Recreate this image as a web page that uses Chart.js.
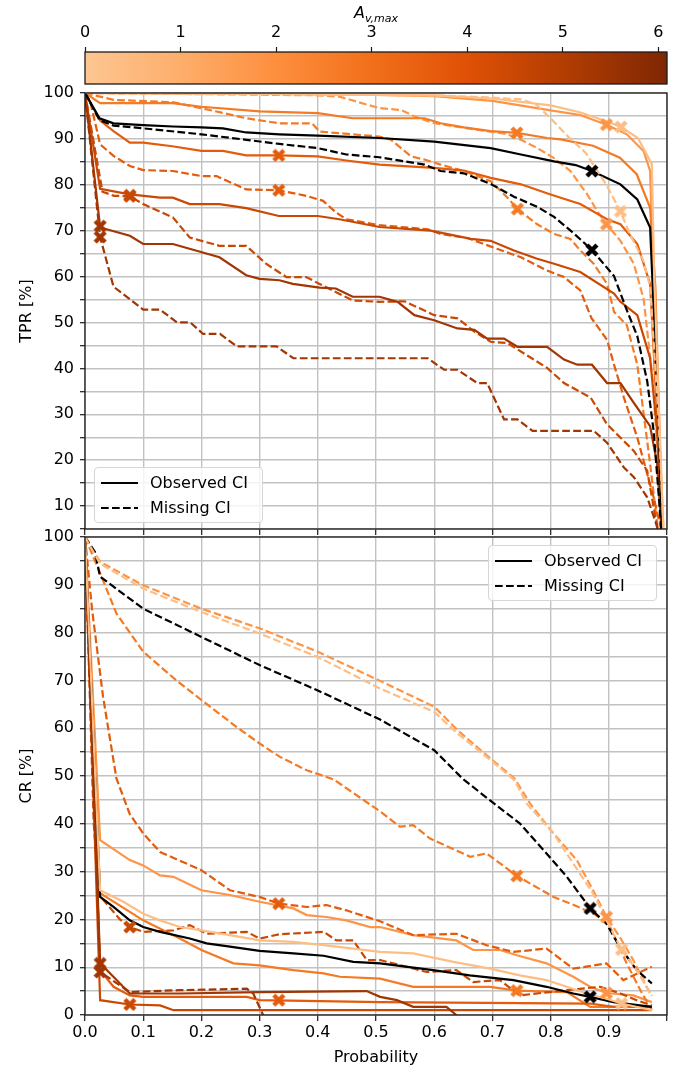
<!DOCTYPE html>
<html>
<head>
<meta charset="utf-8">
<script src="https://cdn.jsdelivr.net/npm/chart.js@4.4.1/dist/chart.umd.min.js"></script>
<style>
  body { margin: 0; background: #fff; }
  #wrap { position: relative; width: 683px; height: 1075px; font-family: 'DejaVu Sans', sans-serif; color: #000; }
  #wrap canvas { position: absolute; left: 0; }
  .cbtitle { position: absolute; left: 85px; width: 582px; top: 3px; text-align: center; font-style: italic; font-size: 16px; }
  .cbtitle sub { font-size: 11px; vertical-align: -4px; }
  .legend { position: absolute; width: 169px; height: 56px; background: rgba(255,255,255,0.8); border: 1px solid #d6d6d6; border-radius: 4px; box-sizing: border-box; font-size: 16px; }
  .legend .row { position: absolute; left: 0; width: 100%; height: 20px; }
  .legend svg { position: absolute; left: 6px; top: 8px; }
  .legend span { position: absolute; left: 55px; top: 0; line-height: 20px; white-space: nowrap; }
</style>
</head>
<body>
<div id="wrap">
  <canvas id="cbar" width="683" height="90" style="top:0px"></canvas>
  <canvas id="tpr" width="683" height="457" style="top:80px"></canvas>
  <canvas id="cr" width="683" height="555" style="top:520px"></canvas>
  <div class="cbtitle">A<sub>v,max</sub></div>
  <div class="legend" style="left:94px; top:467px">
    <div class="row" style="top:5px"><svg width="37" height="4"><line x1="0" y1="2" x2="37" y2="2" stroke="#000" stroke-width="2.2"/></svg><span>Observed CI</span></div>
    <div class="row" style="top:30px"><svg width="37" height="4"><line x1="0" y1="2" x2="37" y2="2" stroke="#000" stroke-width="2.2" stroke-dasharray="7.7 3.3"/></svg><span>Missing CI</span></div>
  </div>
  <div class="legend" style="left:488px; top:545px">
    <div class="row" style="top:5px"><svg width="37" height="4"><line x1="0" y1="2" x2="37" y2="2" stroke="#000" stroke-width="2.2"/></svg><span>Observed CI</span></div>
    <div class="row" style="top:30px"><svg width="37" height="4"><line x1="0" y1="2" x2="37" y2="2" stroke="#000" stroke-width="2.2" stroke-dasharray="7.7 3.3"/></svg><span>Missing CI</span></div>
  </div>
</div>
<script>
// colour per A_v,max group (light -> dark), last one is the black "all" curve
const lineColors = ['#fdbe85', '#fd9446', '#f47a24', '#e35b0b', '#c94803', '#a23603', '#000000'];

// colorbar
const cbarStops = [0, 1, 2, 3, 4, 5, 6.09];
const cbarColors = ['#fdc692', '#fdae6b', '#fd8f3e', '#f26f1a', '#df5106', '#b33d02', '#7f2704'];

// TPR panel, [probability, TPR %]
const tprObserved = [
  [[0,100],[0.3,99.8],[0.6,99.5],[0.7,98.8],[0.8,97.3],[0.85,95.8],[0.897,93.8],[0.921,92.6],[0.95,90.2],[0.974,84.5],[0.978,60],[0.995,0]],
  [[0,100],[0.3,99.8],[0.5,99.6],[0.6,99.3],[0.7,98.3],[0.8,96.2],[0.851,95.2],[0.896,93.1],[0.931,91],[0.96,87.3],[0.971,83],[0.978,55],[0.995,0]],
  [[0,100],[0.026,97.8],[0.15,97.8],[0.2,97.0],[0.3,96.0],[0.4,95.6],[0.46,94.5],[0.583,94.5],[0.611,93.4],[0.651,92.5],[0.697,91.7],[0.742,91.3],[0.794,90.2],[0.817,89.9],[0.873,88.5],[0.919,85.9],[0.948,82.3],[0.971,75],[0.98,57.7],[0.993,0]],
  [[0,100],[0.026,94],[0.049,91.7],[0.077,89.2],[0.1,89.2],[0.15,88.4],[0.2,87.4],[0.237,87.4],[0.277,86.4],[0.333,86.4],[0.4,86.2],[0.449,85.3],[0.506,84.4],[0.6,83.7],[0.651,83.1],[0.697,81.5],[0.749,80.1],[0.8,77.9],[0.851,75.8],[0.897,72.5],[0.92,71.4],[0.949,67.1],[0.971,58.4],[0.985,25],[0.993,0]],
  [[0,100],[0.026,79.1],[0.077,77.9],[0.129,77.2],[0.151,77.2],[0.18,75.8],[0.231,75.8],[0.277,74.9],[0.333,73.2],[0.4,73.2],[0.437,72.5],[0.506,70.8],[0.594,70.0],[0.663,68.2],[0.697,67.8],[0.737,65.7],[0.777,63.9],[0.806,62.8],[0.851,61.0],[0.909,56.3],[0.92,54.5],[0.949,51.6],[0.971,42.2],[0.983,26.4],[0.993,0]],
  [[0,100],[0.026,70.7],[0.077,68.9],[0.1,67.1],[0.151,67.1],[0.231,64.2],[0.277,60.3],[0.3,59.5],[0.334,59.2],[0.357,58.4],[0.403,57.6],[0.431,57.4],[0.46,55.6],[0.506,55.6],[0.537,54.5],[0.566,51.6],[0.6,50.5],[0.64,48.7],[0.669,48.4],[0.691,46.5],[0.72,46.5],[0.743,44.7],[0.794,44.7],[0.823,41.9],[0.846,40.8],[0.871,40.8],[0.897,36.8],[0.92,36.8],[0.943,32.5],[0.971,27.4],[0.983,19.2],[0.993,0]],
  [[0,100],[0.025,94.5],[0.049,93.4],[0.1,93.0],[0.151,92.7],[0.2,92.5],[0.237,92.3],[0.277,91.4],[0.334,91.0],[0.4,90.7],[0.506,90.2],[0.6,89.4],[0.697,88.0],[0.749,86.6],[0.806,85.1],[0.843,84.3],[0.871,83.0],[0.92,80.1],[0.949,76.8],[0.971,70.7],[0.985,30],[0.993,0]]
];
const tprMissing = [
  [[0,100],[0.3,99.8],[0.6,99.5],[0.7,99.0],[0.75,98.6],[0.775,97.5],[0.8,94.5],[0.83,90.5],[0.86,87],[0.896,80],[0.92,74.2],[0.936,69.3],[0.959,63.6],[0.971,57.8],[0.985,30],[0.996,0]],
  [[0,100],[0.4,99.5],[0.437,99.2],[0.506,96.7],[0.543,96.3],[0.566,94.9],[0.6,93.4],[0.657,92.3],[0.697,91.6],[0.726,91.0],[0.749,89.8],[0.777,88.0],[0.806,85.8],[0.834,83.0],[0.863,77.9],[0.88,74.3],[0.896,71.4],[0.92,67.8],[0.943,62.8],[0.96,55],[0.975,38],[0.99,10],[0.995,0]],
  [[0,100],[0.049,98.5],[0.15,98.0],[0.2,96.7],[0.277,94.5],[0.334,93.4],[0.39,93.4],[0.403,91.6],[0.506,90.5],[0.526,89.8],[0.56,86.2],[0.583,85.5],[0.611,84.4],[0.651,83.0],[0.697,80.8],[0.726,77.2],[0.743,74.7],[0.777,71.4],[0.806,69.3],[0.834,68.2],[0.851,65.7],[0.874,62.8],[0.897,58.4],[0.909,52.3],[0.931,49.4],[0.949,40.8],[0.96,30],[0.971,19.2],[0.985,4],[0.99,0]],
  [[0,100],[0.009,98.2],[0.026,88.8],[0.049,86.3],[0.077,84.1],[0.1,83.2],[0.151,83.0],[0.2,81.9],[0.226,81.9],[0.277,79.0],[0.333,78.8],[0.38,77.6],[0.409,76.5],[0.431,74.0],[0.449,72.5],[0.506,71.2],[0.589,70.3],[0.611,69.3],[0.657,68.4],[0.709,66.0],[0.749,64.2],[0.794,61.3],[0.823,59.9],[0.851,57.0],[0.87,51],[0.897,46.2],[0.909,40.8],[0.926,33.6],[0.949,24.9],[0.966,17.0],[0.977,11.9],[0.989,5.5],[0.992,0]],
  [[0,100],[0.03,78.5],[0.05,77.6],[0.077,77.5],[0.1,75.8],[0.151,72.9],[0.18,68.5],[0.231,66.7],[0.277,66.7],[0.311,62.8],[0.346,59.9],[0.38,59.9],[0.403,58.4],[0.46,54.8],[0.506,54.5],[0.549,54.6],[0.6,51.6],[0.64,50.9],[0.669,48],[0.697,45.8],[0.726,45.5],[0.794,40.1],[0.823,36.8],[0.869,33.6],[0.897,27.8],[0.943,22],[0.966,17.7],[0.983,5.5],[0.99,0]],
  [[0,100],[0.026,68.6],[0.049,57.8],[0.1,52.8],[0.129,52.8],[0.158,50.0],[0.181,50.0],[0.203,47.5],[0.232,47.5],[0.261,44.8],[0.329,44.8],[0.358,42.2],[0.589,42.2],[0.617,39.7],[0.64,39.7],[0.674,36.8],[0.691,36.8],[0.72,28.9],[0.743,28.9],[0.769,26.4],[0.874,26.4],[0.897,23.8],[0.926,18.4],[0.943,16.3],[0.966,11.9],[0.983,5.5],[0.99,0]],
  [[0,100],[0.025,94.1],[0.049,92.9],[0.1,92.3],[0.2,91.0],[0.277,89.8],[0.334,88.9],[0.4,88.0],[0.449,86.6],[0.506,86.0],[0.583,84.4],[0.611,83.0],[0.651,82.5],[0.697,80.2],[0.737,77.4],[0.777,75.2],[0.806,73.0],[0.84,69.4],[0.871,65.8],[0.909,60.1],[0.93,53],[0.949,47],[0.966,37.2],[0.977,26.4],[0.986,12],[0.993,0]]
];
const tprObservedMarks = [[0.921,92.6],[0.896,93.1],[0.742,91.3],[0.333,86.4],[0.077,77.7],[0.026,71.0],[0.871,83.0]];
const tprMissingMarks = [[0.92,74.2],[0.896,71.4],[0.743,74.7],[0.333,78.8],[0.077,77.5],[0.026,68.6],[0.871,65.8]];

// CR panel, [probability, CR %]
const crObserved = [
  [[0,100],[0.026,26.1],[0.066,23.7],[0.1,21.2],[0.129,19.8],[0.163,18.4],[0.2,17.7],[0.249,16.7],[0.3,15.6],[0.358,15.3],[0.41,14.6],[0.507,13.2],[0.564,12.9],[0.633,11.1],[0.696,9.7],[0.747,8.3],[0.793,7.3],[0.828,5.9],[0.862,4.5],[0.896,3.4],[0.922,2.4],[0.974,1.0]],
  [[0,100],[0.026,36.6],[0.077,32.4],[0.1,31.3],[0.129,29.2],[0.152,28.9],[0.2,26.1],[0.249,25.1],[0.3,23.7],[0.358,22.3],[0.381,20.9],[0.415,20.5],[0.449,19.8],[0.49,18.4],[0.507,18.4],[0.564,16.7],[0.638,15.6],[0.667,13.6],[0.713,13.6],[0.742,12.5],[0.793,10.8],[0.839,8.0],[0.868,5.9],[0.896,4.6],[0.942,4.1],[0.974,2.7]],
  [[0,100],[0.026,25.5],[0.1,19.8],[0.163,16.0],[0.2,13.6],[0.255,10.8],[0.3,10.4],[0.358,9.4],[0.41,8.7],[0.438,8.0],[0.507,7.6],[0.564,5.9],[0.696,5.9],[0.742,5.1],[0.828,4.8],[0.868,1.7],[0.974,1.7]],
  [[0,100],[0.026,9.4],[0.049,5.9],[0.077,4.1],[0.1,3.8],[0.278,3.8],[0.3,3.1],[0.507,2.7],[0.868,2.4],[0.908,1.7],[0.974,1.7]],
  [[0,100],[0.026,3.1],[0.077,2.2],[0.129,2.0],[0.152,1.0],[0.974,1.0]],
  [[0,100],[0.026,10.8],[0.077,4.5],[0.163,4.5],[0.3,4.8],[0.484,5.0],[0.507,3.8],[0.536,3.1],[0.564,1.7],[0.621,1.7],[0.638,0]],
  [[0,100],[0.026,24.7],[0.049,22.6],[0.077,19.8],[0.1,18.4],[0.129,17.4],[0.18,16.0],[0.209,15.0],[0.249,14.3],[0.3,13.4],[0.358,12.9],[0.41,12.4],[0.461,11.1],[0.507,10.8],[0.598,9.4],[0.661,8.3],[0.736,7.3],[0.793,5.9],[0.839,4.5],[0.868,3.8],[0.908,2.7],[0.974,1.7]]
];
const crMissing = [
  [[0,100],[0.026,94.4],[0.1,89.2],[0.2,84.3],[0.3,79.8],[0.4,74.9],[0.507,68.3],[0.6,63.4],[0.64,58.9],[0.7,53.0],[0.738,49.1],[0.759,44.2],[0.805,38.0],[0.839,31.7],[0.873,25.4],[0.902,18.4],[0.922,13.7],[0.948,9.4],[0.971,4.5]],
  [[0,100],[0.026,94.8],[0.1,89.9],[0.2,85.0],[0.3,80.9],[0.4,76.0],[0.507,69.9],[0.6,64.5],[0.64,59.6],[0.7,53.3],[0.738,49.5],[0.765,44.2],[0.8,38.7],[0.845,32.4],[0.873,26.1],[0.896,20.5],[0.919,16.3],[0.942,11.5],[0.965,5.9],[0.974,4.0]],
  [[0,100],[0.026,92.4],[0.054,84.0],[0.1,76.0],[0.157,70.0],[0.2,65.9],[0.26,60.3],[0.3,56.8],[0.335,54.0],[0.381,51.2],[0.427,49.3],[0.507,42.6],[0.541,39.4],[0.564,39.7],[0.593,36.9],[0.662,33.1],[0.69,33.8],[0.742,29.1],[0.805,24.7],[0.84,23.0],[0.874,21.2],[0.9,19],[0.93,11],[0.955,5],[0.974,1]],
  [[0,100],[0.012,85],[0.031,66.6],[0.054,49.5],[0.077,42],[0.1,38.0],[0.129,34.1],[0.2,30.3],[0.249,26.1],[0.3,24.7],[0.333,23.3],[0.381,22.6],[0.415,23.0],[0.449,21.9],[0.507,19.6],[0.564,16.7],[0.638,17.0],[0.69,14.6],[0.736,13.2],[0.793,13.9],[0.839,9.7],[0.896,10.8],[0.925,7.3],[0.974,10.1]],
  [[0,100],[0.015,40],[0.025,25],[0.06,20],[0.077,18.4],[0.1,17.4],[0.152,17.7],[0.18,18.8],[0.209,17.0],[0.278,17.4],[0.3,16.0],[0.335,16.9],[0.41,17.4],[0.432,15.6],[0.461,15.6],[0.484,11.5],[0.507,11.5],[0.587,9.0],[0.638,9.4],[0.667,6.9],[0.713,7.3],[0.747,4.1],[0.828,5.2],[0.885,5.9],[0.92,4.5],[0.95,3],[0.974,2]],
  [[0,100],[0.026,9.0],[0.077,4.8],[0.163,5.2],[0.278,5.5],[0.289,4.5],[0.306,0]],
  [[0,100],[0.017,96.9],[0.026,91.7],[0.1,85.0],[0.2,79.1],[0.3,73.2],[0.4,67.9],[0.507,61.8],[0.6,55.4],[0.65,49.3],[0.696,44.9],[0.747,40.1],[0.793,33.8],[0.828,28.9],[0.868,22.3],[0.896,19.1],[0.919,14.2],[0.948,9.4],[0.974,6.6]]
];
const crObservedMarks = [[0.922,2.4],[0.896,4.6],[0.742,5.1],[0.333,3.1],[0.077,2.2],[0.026,10.8],[0.868,3.8]];
const crMissingMarks = [[0.922,13.7],[0.896,20.5],[0.742,29.1],[0.333,23.3],[0.077,18.4],[0.026,9.0],[0.868,22.3]];

const dashPattern = [7.7, 3.3];

Chart.defaults.font.family = "'DejaVu Sans', sans-serif";
Chart.defaults.font.size = 16;
Chart.defaults.color = '#000';

// filled "X" marker like matplotlib
function xMarker(color) {
  const s = 14;
  const c = document.createElement('canvas');
  c.width = s; c.height = s;
  const g = c.getContext('2d');
  g.strokeStyle = color;
  g.lineWidth = 4.4;
  g.beginPath();
  g.moveTo(2, 2); g.lineTo(s - 2, s - 2);
  g.moveTo(s - 2, 2); g.lineTo(2, s - 2);
  g.stroke();
  return c;
}

const frame = {
  id: 'frame',
  afterDatasetsDraw(chart) {
    const a = chart.chartArea, ctx = chart.ctx;
    ctx.save();
    ctx.strokeStyle = '#1a1a1a';
    ctx.lineWidth = 1.3;
    ctx.strokeRect(a.left, a.top, a.right - a.left, a.bottom - a.top);
    ctx.restore();
  }
};

const colorbarFill = {
  id: 'colorbarFill',
  beforeDatasetsDraw(chart) {
    const a = chart.chartArea, ctx = chart.ctx, x = chart.scales.x;
    const grad = ctx.createLinearGradient(a.left, 0, a.right, 0);
    cbarStops.forEach((v, i) => {
      const t = (x.getPixelForValue(v) - a.left) / (a.right - a.left);
      grad.addColorStop(Math.min(1, Math.max(0, t)), cbarColors[i]);
    });
    ctx.save();
    ctx.fillStyle = grad;
    ctx.fillRect(a.left, a.top, a.right - a.left, a.bottom - a.top);
    ctx.restore();
  }
};

function curveSets(observed, missing, obsMarks, missMarks) {
  const sets = [];
  const marks = obsMarks.concat(missMarks);
  const markColors = lineColors.concat(lineColors);
  sets.push({
    data: marks.map(([x, y]) => ({ x, y })),
    pointStyle: markColors.map(c => xMarker(c)),
    pointRadius: 7,
    showLine: false,
    clip: false,
    order: 0
  });
  // black curves are listed first so they sit on top
  for (let i = lineColors.length - 1; i >= 0; i--) {
    const k = (i + 1) % lineColors.length;
    [[observed[k], []], [missing[k], dashPattern]].forEach(([pts, dash]) => {
      sets.push({
        data: pts.map(([x, y]) => ({ x, y })),
        showLine: true,
        borderColor: lineColors[k],
        borderWidth: 2.2,
        borderDash: dash,
        pointRadius: 0,
        tension: 0,
        order: 1
      });
    });
  }
  return sets;
}

function panelOptions(yMin, yTitle, showX, xHeight, padTop) {
  return {
    responsive: false,
    animation: false,
    devicePixelRatio: 1,
    layout: { padding: { top: padTop, right: 16, bottom: 0, left: 0 } },
    plugins: { legend: { display: false }, tooltip: { enabled: false } },
    scales: {
      x: {
        type: 'linear', min: 0, max: 1,
        border: { display: false },
        grid: { color: '#c2c2c2', lineWidth: 1.4, tickColor: '#1a1a1a', tickLength: 6, tickWidth: 1.2 },
        ticks: {
          display: showX, stepSize: 0.1, includeBounds: false, padding: 2, maxRotation: 0, autoSkip: false,
          callback: v => (Math.abs(v - 1) < 1e-9 ? '' : v.toFixed(1))
        },
        title: { display: showX, text: 'Probability', padding: { top: 0, bottom: 8 } },
        afterFit: s => { s.height = xHeight; s.paddingLeft = 0; s.paddingRight = 0; }
      },
      y: {
        type: 'linear', min: yMin, max: 100,
        border: { display: false },
        grid: { color: '#c2c2c2', lineWidth: 1.4, tickColor: '#1a1a1a', tickLength: 5, tickWidth: 1.2 },
        ticks: { stepSize: 5, includeBounds: false, padding: 6, autoSkip: false, callback: v => (v % 10 === 0 ? String(v) : '') },
        title: { display: true, text: yTitle, padding: { top: 17, bottom: 0 } },
        afterFit: s => { s.width = 85; s.paddingTop = 0; s.paddingBottom = 0; }
      }
    }
  };
}

new Chart(document.getElementById('cbar'), {
  type: 'scatter',
  data: { datasets: [] },
  options: {
    responsive: false,
    animation: false,
    devicePixelRatio: 1,
    layout: { padding: { top: 0, right: 16, bottom: 6, left: 85 } },
    plugins: { legend: { display: false }, tooltip: { enabled: false } },
    scales: {
      x: {
        type: 'linear', position: 'top', min: 0, max: cbarStops[cbarStops.length - 1],
        border: { display: false },
        grid: { drawOnChartArea: false, tickColor: '#1a1a1a', tickLength: 5, tickWidth: 1.2 },
        ticks: { stepSize: 1, includeBounds: false, padding: 5, maxRotation: 0 },
        afterFit: s => { s.height = 52; s.paddingLeft = 0; s.paddingRight = 0; }
      },
      y: { display: false, min: 0, max: 1 }
    }
  },
  plugins: [colorbarFill, frame]
});

new Chart(document.getElementById('tpr'), {
  type: 'scatter',
  data: { datasets: curveSets(tprObserved, tprMissing, tprObservedMarks, tprMissingMarks) },
  options: panelOptions(5, 'TPR [%]', false, 6, 13),
  plugins: [frame]
});

new Chart(document.getElementById('cr'), {
  type: 'scatter',
  data: { datasets: curveSets(crObserved, crMissing, crObservedMarks, crMissingMarks) },
  options: panelOptions(0, 'CR [%]', true, 60, 17),
  plugins: [frame]
});
</script>
</body>
</html>
